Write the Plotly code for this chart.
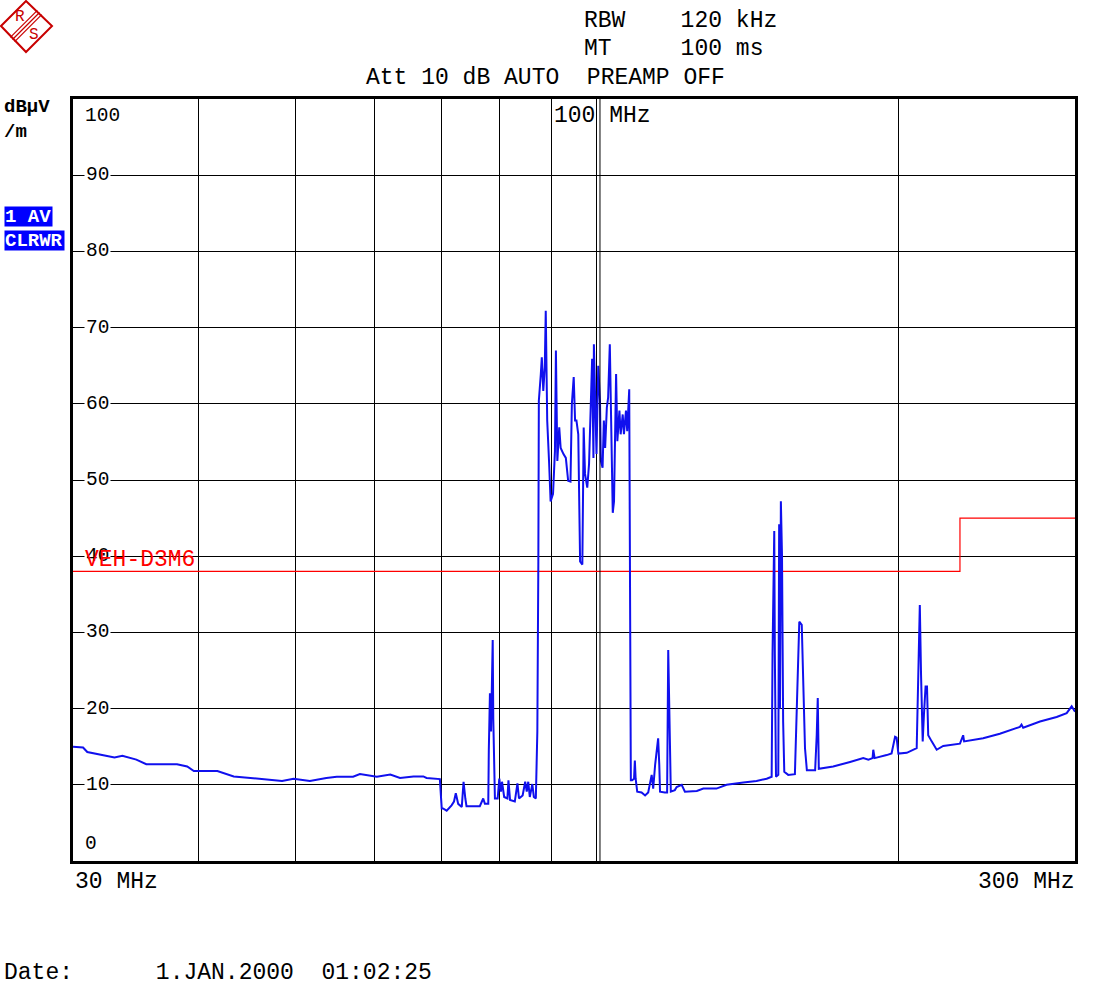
import plotly.graph_objects as go

# spectrum trace (MHz / dBuV/m)
freq_mhz = [
    30.0, 30.7, 31.0, 31.9, 33.0, 33.6, 34.7, 35.5, 36.6, 38.1, 39.0, 39.6, 40.8, 41.8,
    43.4, 45.1, 46.8, 48.5, 49.8, 51.7, 53.7, 55.0, 57.1, 58.0, 60.3, 62.2, 63.6, 65.6,
    67.1, 67.6, 69.7, 70.0,
    70.2, 70.8, 71.6, 72.0, 72.3, 72.7, 73.3, 73.6, 73.9, 74.1, 76.4, 77.0, 77.3, 77.9,
    78.0, 78.2, 78.4, 78.5, 78.6, 78.7, 78.8, 79.0, 79.1, 79.6, 79.9, 80.2, 80.4, 80.8,
    81.4, 81.6, 81.9, 82.8, 83.3, 83.6, 84.3, 84.8, 85.1, 85.4, 85.7, 86.2, 86.5, 86.9,
    87.2, 87.4,
    87.5, 87.9, 88.1, 88.4, 88.7, 88.9, 89.1, 89.2, 89.6, 89.9, 90.4, 90.8, 91.0, 91.3,
    91.7, 92.0, 92.6, 93.1, 93.6, 94.1, 94.4, 94.8, 95.1, 95.4, 95.8, 96.2, 96.7, 97.0,
    97.3, 97.8, 98.2, 98.6, 98.9, 99.2, 99.3, 99.6, 99.9, 100.3, 100.7, 100.9, 101.3,
    101.6, 101.9, 102.3, 102.6, 103.0, 103.4, 103.7, 104.0, 104.5, 104.8, 105.3, 105.6,
    106.1, 106.4, 106.9, 107.2, 107.7, 107.9,
    108.1, 108.4, 108.9, 109.1, 109.3, 109.7, 110.8, 111.7, 112.5, 113.4, 113.8, 114.3,
    115.1, 115.4, 115.6, 116.9, 117.5, 117.8, 118.1, 118.5, 119.6, 120.1, 121.5, 122.4,
    125.8, 127.7, 131.6, 134.7, 140.0, 144.3, 147.7, 149.4,
    149.7, 150.1, 150.3, 150.5, 150.9, 151.7, 152.0, 152.3, 152.6, 153.0, 153.2, 153.4,
    153.8, 155.2, 157.6, 158.5, 159.2, 160.1, 160.7, 161.3, 162.0, 165.1, 165.7, 166.1,
    166.5, 172.1, 178.9, 184.4, 186.6, 188.4, 188.7, 189.3, 194.6, 196.8, 198.4, 199.1,
    199.9, 203.8, 208.5, 209.3, 210.0, 210.6, 211.4, 212.0, 212.8, 213.5, 214.1, 215.8,
    218.3, 221.6, 230.3, 232.0, 232.5, 242.9, 252.4, 264.3, 265.3, 266.3, 276.8, 287.6,
    294.3, 297.7, 300.0,
]
level_dbuv = [
    15.0, 14.9, 14.3, 14.0, 13.6, 13.8, 13.3, 12.7, 12.7, 12.7, 12.4, 11.8, 11.8, 11.8,
    11.1, 10.9, 10.75, 10.5, 10.8, 10.5, 10.9, 11.05, 11.05, 11.4, 11.05, 11.35, 10.9, 11.1,
    11.1, 10.9, 10.75, 6.9,
    6.9, 6.6, 7.3, 7.8, 8.9, 7.5, 7.1, 10.4, 8.2, 7.2, 7.2, 8.2, 7.5, 7.5,
    14.6, 22.0, 17.0, 22.0, 29.0, 29.0, 18.7, 11.5, 8.2, 8.2, 10.8, 9.1, 10.4, 8.4,
    8.2, 10.6, 8.0, 7.8, 10.2, 8.2, 8.6, 10.4, 9.1, 10.4, 8.4, 10.1, 8.4, 8.2,
    17.0, 39.3,
    60.4, 63.9, 66.1, 61.7, 64.8, 72.2, 60.0, 57.8, 52.1, 47.2, 48.2, 53.8, 67.0, 52.5,
    56.9, 54.2, 53.4, 52.9, 49.9, 49.8, 60.0, 63.5, 57.8, 57.8, 56.0, 39.3, 38.9, 56.9,
    50.8, 49.0, 52.1, 59.5, 65.9, 52.9, 67.8, 60.4, 53.4, 65.0, 60.4, 52.5, 51.6,
    57.8, 54.2, 59.5, 60.8, 67.8, 56.0, 45.7, 47.2, 63.9, 55.1, 59.1, 56.0,
    58.6, 56.0, 59.1, 56.4, 61.9, 36.0,
    10.6, 10.6, 10.8, 13.2, 10.8, 9.1, 9.0, 8.6, 9.0, 11.3, 9.5, 12.6,
    16.1, 12.6, 9.1, 9.0, 9.0, 27.7, 17.8, 9.1, 9.3, 9.7, 10.0, 9.1,
    9.2, 9.5, 9.5, 10.0, 10.3, 10.5, 10.8, 11.05,
    27.1, 43.3, 43.3, 27.1, 11.05, 11.3, 44.2, 20.0, 47.2, 40.0, 29.2, 18.3,
    11.7, 11.3, 11.4, 21.4, 31.4, 31.0, 23.6, 14.8, 11.9, 11.9, 16.5, 21.4,
    12.1, 12.4, 13.0, 13.5, 13.3, 13.5, 14.6, 13.5, 13.9, 14.1, 16.3, 16.2,
    14.1, 14.2, 14.8, 24.0, 33.6, 24.4, 15.7, 19.2, 22.9, 22.9, 16.5, 15.7,
    14.6, 15.1, 15.4, 16.5, 15.7, 16.1, 16.7, 17.6, 17.9, 17.5, 18.3, 18.9,
    19.4, 20.3, 19.6,
]

# limit line VEH-D3M6
limit_freq = [30, 230.3, 300]
limit_level = [38, 45, 45]
limit_name = 'VEH-D3M6'

x_grid = [40, 50, 60, 70, 80, 90, 100, 200]
y_ticks = [0, 10, 20, 30, 40, 50, 60, 70, 80, 90, 100]
y_tick_text = ['0', '10', '20', '30', '40', '50', '60', '70', '80', '90', '100']

header = ['RBW    120 kHz', 'MT     100 ms', 'Att 10 dB AUTO  PREAMP OFF']
unit = ['dB\u00b5V', '/m']
trace_info = ['1 AV', 'CLRWR']
x_start, x_stop, x_center = '30 MHz', '300 MHz', '100 MHz'
date_line = 'Date:      1.JAN.2000  01:02:25'

W, H = 1120, 986
L, R, T, B = 73, 1075, 99, 861
MONO = 'Liberation Mono, DejaVu Sans Mono, monospace'
BLUE = '#1010ee'
RED = '#ff0000'
LOGO = '#c80000'


def px(x):
    return (x - L) / (R - L)


def py(y):
    return (B - y) / (B - T)


def nb(s):
    return s.replace(' ', '\u00a0')


fig = go.Figure()
fig.add_trace(go.Scatter(x=limit_freq, y=limit_level, mode='lines', line=dict(color=RED, width=1.2, shape='hv'),
                         hoverinfo='skip', showlegend=False))
fig.add_trace(go.Scatter(x=freq_mhz, y=level_dbuv, mode='lines', line=dict(color=BLUE, width=2),
                         showlegend=False))


def label(text, x, y, size=23, anchor='left', color='black', **kw):
    fig.add_annotation(text=nb(text), x=px(x), y=py(y), xref='paper', yref='paper',
                       xanchor=anchor, yanchor='middle', showarrow=False, borderpad=0,
                       font=dict(family=MONO, size=size, color=color), **kw)


label(header[0], 583, 21)
label(header[1], 583, 49)
label(header[2], 365, 78)
label('<b>' + unit[0] + '</b>', 3, 107, size=19)
label('<b>' + unit[1] + '</b>', 3, 132, size=19)
label('<b>' + trace_info[0] + '</b>', 4, 216.5, size=19, color='white', bgcolor='#0000ff',
      width=47, height=19, align='left')
label('<b>' + trace_info[1] + '</b>', 4, 240.5, size=19, color='white', bgcolor='#0000ff',
      width=59, height=19, align='left')
label(x_center, 553, 116)
label(x_start, 74, 882)
label(x_stop, 1076, 882, anchor='right')
label(date_line, 3, 973, height=22)

# y tick labels sit inside the grid
for v, t in zip(y_ticks, y_tick_text):
    if v == 100:
        label(t, 84, 116, size=19.5)
    elif v == 0:
        label(t, 84, 844, size=19.5)
    else:
        fig.add_annotation(text=t, x=px(84), y=v, xref='paper', yref='y', xanchor='left',
                           yanchor='middle', showarrow=False, bgcolor='white', borderpad=1,
                           font=dict(family=MONO, size=19.5, color='black'))

label(limit_name, 84, 560, color=RED)

# second marker line right of 100 MHz
fig.add_shape(type='line', x0=100.7, x1=100.7, y0=0, y1=1, xref='x', yref='paper',
              line=dict(color='black', width=1))

# R&S logo
def pt(x, y):
    return '%.5f,%.5f' % (px(x), py(y))


fig.add_shape(type='path', xref='paper', yref='paper',
              path='M' + pt(26, 1) + ' L' + pt(52, 26) + ' L' + pt(26, 52) + ' L' + pt(1, 26) + ' Z',
              line=dict(color=LOGO, width=2))
for o in (-2.2, 0, 2.2):
    fig.add_shape(type='line', xref='paper', yref='paper',
                  x0=px(39.5 + o), y0=py(12.5 + o), x1=px(12.5 + o), y1=py(39.5 + o),
                  line=dict(color=LOGO, width=1.2))
label('R', 14, 17, size=16, color=LOGO)
label('S', 28, 35, size=16, color=LOGO)

fig.update_layout(
    width=W, height=H,
    margin=dict(l=L, r=W - R, t=T, b=H - B, pad=0),
    paper_bgcolor='white', plot_bgcolor='white',
    xaxis=dict(type='log', range=[1.4771, 2.4771], tickvals=x_grid, showticklabels=False,
               ticks='', showgrid=True, gridcolor='black', gridwidth=1, zeroline=False,
               showline=True, mirror=True, linecolor='black', linewidth=3),
    yaxis=dict(range=[0, 100], tickvals=y_ticks[1:-1], showticklabels=False, ticks='',
               showgrid=True, gridcolor='black', gridwidth=1, zeroline=False,
               showline=True, mirror=True, linecolor='black', linewidth=3),
    hovermode=False,
)

fig.write_html('out.html', config={'displayModeBar': False},
               post_script="document.body.style.margin='0';")
